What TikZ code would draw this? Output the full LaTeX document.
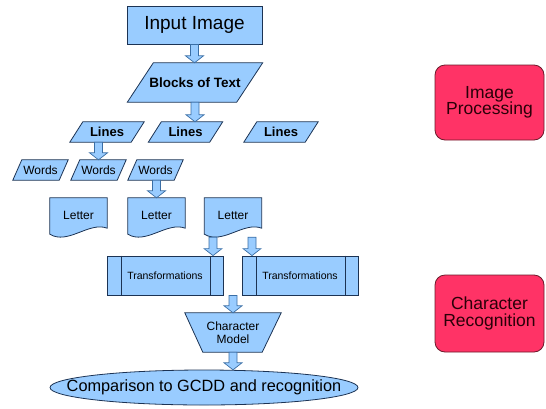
\documentclass[tikz,border=0pt]{standalone}
\usepackage{fontspec}
\setmainfont{Liberation Sans}
\usetikzlibrary{calc,shapes.geometric,backgrounds}
\definecolor{boxfill}{HTML}{99CCFF}
\definecolor{boxline}{HTML}{1C3354}
\definecolor{arrline}{HTML}{3A6EA5}
\definecolor{redfill}{HTML}{FF3366}
\definecolor{redline}{HTML}{6B1A2A}
\definecolor{redtext}{HTML}{2A0008}

\newcommand\blockarrow[2]{%
  \draw[barrowstyle] let \p1=#1, \p2=#2 in
    (\x1-4pt,\y1) -- (\x1+4pt,\y1) -- (\x1+4pt,\y2+7pt) -- (\x1+9pt,\y2+7pt)
    -- (\x1,\y2) -- (\x1-9pt,\y2+7pt) -- (\x1-4pt,\y2+7pt) -- cycle;}
\newcommand\paragram[2]{%
  \begin{pgfonlayer}{background}
  \draw[shapeline] ([xshift=#2]#1.north west) -- ([xshift=#2]#1.north east)
    -- ([xshift=-#2]#1.south east) -- ([xshift=-#2]#1.south west) -- cycle;
  \end{pgfonlayer}}
\newcommand\docshape[1]{%
  \begin{pgfonlayer}{background}
  \draw[shapeline] (#1.north west) -- (#1.north east) -- ([yshift=9pt]#1.south east)
    .. controls ([xshift=-18pt,yshift=16pt]#1.south east) and ([xshift=18pt,yshift=-8pt]#1.south west)
    .. ([yshift=3pt]#1.south west) -- cycle;
  \end{pgfonlayer}}
\newcommand\procbars[3]{%
  \draw[boxline, line width=0.8pt] ([xshift=#2]#1.north west) -- ([xshift=#2]#1.south west);
  \draw[boxline, line width=0.8pt] ([xshift=-#3]#1.north east) -- ([xshift=-#3]#1.south east);}

\begin{document}
\begin{tikzpicture}[x=1pt,y=-1pt,
  shapeline/.style={draw=boxline, fill=boxfill, line width=0.8pt},
  holder/.style={draw=none, inner sep=0pt, align=center},
  barrowstyle/.style={draw=arrline, fill=boxfill, line width=0.7pt},
  redbox/.style={draw=redline, fill=redfill, line width=0.8pt, rounded corners=10pt,
    inner sep=0pt, align=center, text=redtext, font=\fontsize{17.5}{16.5}\selectfont},
  linestxt/.style={holder, minimum width=61pt, minimum height=20pt, font=\bfseries\fontsize{13}{15}\selectfont},
  wordstxt/.style={holder, minimum width=46pt, minimum height=20pt, font=\fontsize{12}{14}\selectfont},
  lettertxt/.style={holder, minimum width=57pt, minimum height=39pt, font=\fontsize{12}{14}\selectfont},
  proc/.style={shapeline, inner sep=0pt, minimum width=116pt, minimum height=39pt, font=\fontsize{10.5}{12}\selectfont}]
\useasboundingbox (0,0) rectangle (546,408);

% top
\node[shapeline, inner sep=0pt, minimum width=135pt, minimum height=38pt,
  font=\fontsize{19}{21}\selectfont] (inp) at (194.5,25) {Input Image};
\node[holder, minimum width=109pt, minimum height=39pt,
  font=\bfseries\fontsize{13.5}{15}\selectfont] (bt) at (195,82.5) {Blocks of Text};
\paragram{bt}{13pt}

% lines
\node[linestxt] (l1) at (107,132) {Lines};
\node[linestxt] (l2) at (185.5,132) {Lines};
\node[linestxt] (l3) at (281,132) {Lines};
\paragram{l1}{6.5pt}
\paragram{l2}{6.5pt}
\paragram{l3}{6.5pt}

% words
\node[wordstxt] (w1) at (40.5,170) {Words};
\node[wordstxt] (w2) at (98.5,170) {Words};
\node[wordstxt] (w3) at (155.5,170) {Words};
\paragram{w1}{4.5pt}
\paragram{w2}{4.5pt}
\paragram{w3}{4.5pt}

% letters
\node[lettertxt] (lt1) at (78.5,217.5) {\raisebox{5pt}{Letter}};
\node[lettertxt] (lt2) at (156.5,217.5) {\raisebox{5pt}{Letter}};
\node[lettertxt] (lt3) at (233,217.5) {\raisebox{5pt}{Letter}};
\docshape{lt1}
\docshape{lt2}
\docshape{lt3}

% transformations
\node[proc] (tr1) at (165,275.5) {Transformations};
\node[proc] (tr2) at (300,275.5) {Transformations};
\procbars{tr1}{14.5pt}{13pt}
\procbars{tr2}{14.5pt}{13pt}

% character model
\node[holder, minimum width=96pt, minimum height=39pt,
  font=\fontsize{12}{13}\selectfont] (cm) at (233,332.5) {Character\\Model};
\begin{pgfonlayer}{background}
\draw[shapeline] (cm.north west) -- (cm.north east) -- ([xshift=-19pt]cm.south east)
  -- ([xshift=18pt]cm.south west) -- cycle;
\end{pgfonlayer}

% comparison
\node[holder, minimum width=308pt, minimum height=35pt,
  font=\fontsize{16.3}{18}\selectfont] (cmp) at (204,387.5) {Comparison to GCDD and recognition};
\begin{pgfonlayer}{background}
\draw[shapeline] (cmp.center) ellipse [x radius=154pt, y radius=17.5pt];
\end{pgfonlayer}

% red boxes
\node[redbox, minimum width=109pt, minimum height=75pt] (ip) at (489.5,102.5) {Image\\Processing};
\node[redbox, minimum width=109pt, minimum height=77pt] (cr) at (489.5,313.5) {Character\\Recognition};

% arrows
\blockarrow{(inp.south)}{(bt.north)}
\blockarrow{(bt.south)}{(l2.north)}
\blockarrow{(l1.south -| w2.north)}{(w2.north)}
\blockarrow{(w3.south -| lt2.north)}{(lt2.north)}
\blockarrow{([xshift=-20pt]lt3.south)}{(tr1.north)}
\blockarrow{([xshift=19pt]lt3.south)}{(tr2.north)}
\blockarrow{(tr1.south -| cm.north)}{(cm.north)}
\blockarrow{(cm.south)}{(cmp.north)}
\end{tikzpicture}
\end{document}
